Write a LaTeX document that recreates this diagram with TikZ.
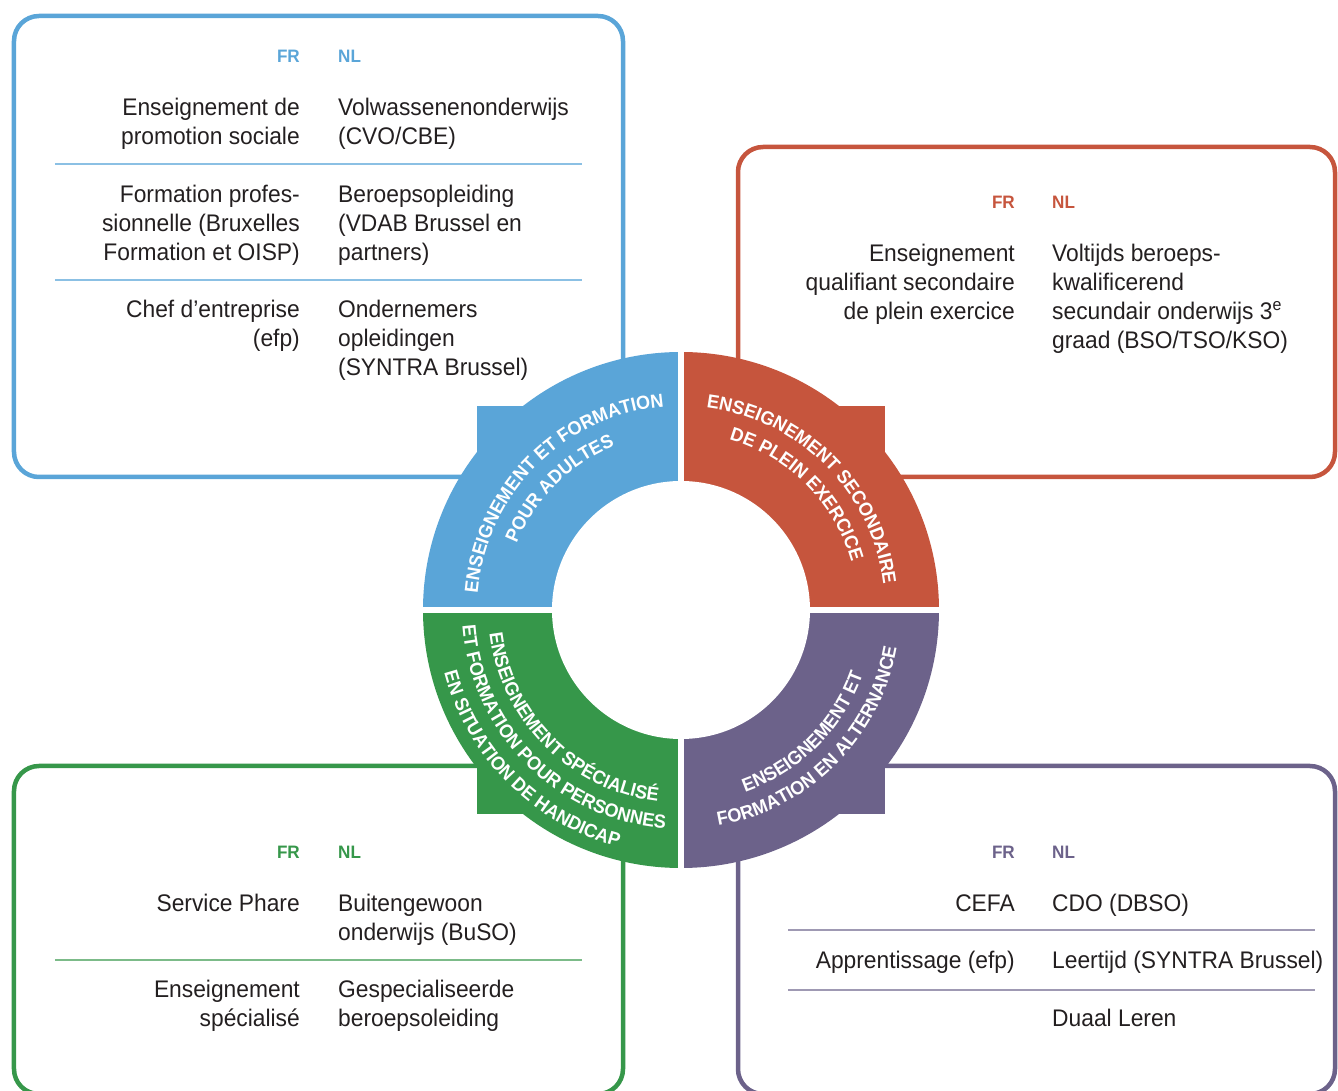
\documentclass[tikz,border=0pt]{standalone}
\usepackage{fontspec}
\setmainfont{Liberation Sans}[FakeStretch=0.95]
\usetikzlibrary{decorations.text}

\definecolor{adultblue}{HTML}{5AA5D8}
\definecolor{fulltimered}{HTML}{C6553D}
\definecolor{specialgreen}{HTML}{36974A}
\definecolor{dualpurple}{HTML}{6C628A}
\definecolor{bodytext}{HTML}{231F20}

\newcommand{\bodyfont}{\fontsize{24}{29}\selectfont}
\newcommand{\ringfont}{\bfseries\fontsize{19}{22}\selectfont}
\newcommand{\hdrfont}{\bfseries\fontsize{18}{20}\selectfont}

\tikzset{
  panel/.style={line width=4.5pt, rounded corners=25pt},
  frcol/.style={anchor=base east, align=right, inner sep=0pt, font=\bodyfont, text=bodytext},
  nlcol/.style={anchor=base west, align=left, inner sep=0pt, font=\bodyfont, text=bodytext},
  hdr/.style={inner sep=0pt, font=\hdrfont},
  rowsep/.style={line width=1.5pt},
  ringtext/.style={decoration={text along path, text align=center, text color=white, text={|\ringfont|#1}}, decorate},
}

\begin{document}
\begin{tikzpicture}[x=1pt,y=1pt]
  \useasboundingbox (-681,-481) rectangle (657,610);
  \clip (-681,-481) rectangle (657,610);

  % the four panels
  \draw[panel, adultblue] (-667,133) rectangle (-58,594);
  \draw[panel, fulltimered] (57,133) rectangle (654,463);
  \draw[panel, specialgreen] (-667,-484) rectangle (-58,-156);
  \draw[panel, dualpurple] (57,-484) rectangle (654,-156);

  % ring
  \foreach \a/\c in {135/adultblue, 45/fulltimered, 225/specialgreen, 315/dualpurple} {
    \fill[\c] (0,0) -- (\a-45:258) arc[start angle=\a-45, end angle=\a+45, radius=258] -- cycle;
    \fill[\c] (0,0) rectangle (\a:288.5);
  }
  \fill[white] (0,0) circle[radius=129];
  \fill[white] (-3.2,-262) rectangle (3.2,262);
  \fill[white] (-262,-3.2) rectangle (262,3.2);

  \path[ringtext={ENSEIGNEMENT ET FORMATION}] (205:204) arc[start angle=205, end angle=65, radius=204];
  \path[ringtext={POUR ADULTES}] (205:177) arc[start angle=205, end angle=65, radius=177];
  \path[ringtext={ENSEIGNEMENT SECONDAIRE}] (115:204) arc[start angle=115, end angle=-25, radius=204];
  \path[ringtext={DE PLEIN EXERCICE}] (115:177) arc[start angle=115, end angle=-25, radius=177];
  \path[ringtext={ENSEIGNEMENT SPÉCIALISÉ}] (155:193) arc[start angle=155, end angle=295, radius=193];
  \path[ringtext={ET FORMATION POUR PERSONNES}] (155:219) arc[start angle=155, end angle=295, radius=219];
  \path[ringtext={EN SITUATION DE HANDICAP}] (155:245) arc[start angle=155, end angle=295, radius=245];
  \path[ringtext={ENSEIGNEMENT ET}] (245:193) arc[start angle=245, end angle=385, radius=193];
  \path[ringtext={FORMATION EN ALTERNANCE}] (245:219) arc[start angle=245, end angle=385, radius=219];

  % adults (base anchor = last line)
  \node[hdr, text=adultblue, anchor=base east] (afr) at (-381,547) {FR};
  \node[hdr, text=adultblue, anchor=base west] (anl) at (-343,547) {NL};
  \node[frcol] (a1fr) at (-381,465) {Enseignement de\\promotion sociale};
  \node[nlcol] (a1nl) at (-343,465) {Volwassenenonderwijs\\(CVO/CBE)};
  \draw[rowsep, adultblue!70] (-626,446) -- (-99,446);
  \node[frcol] (a2fr) at (-381,349) {Formation profes-\\sionnelle (Bruxelles\\Formation et OISP)};
  \node[nlcol] (a2nl) at (-343,349) {Beroepsopleiding\\(VDAB Brussel en\\partners)};
  \draw[rowsep, adultblue!70] (-626,330) -- (-99,330);
  \node[frcol] (a3fr) at (-381,263) {Chef d’entreprise\\(efp)};
  \node[nlcol] (a3nl) at (-343,234) {Ondernemers\\opleidingen\\(SYNTRA Brussel)};

  % full-time secondary
  \node[hdr, text=fulltimered, anchor=base east] (sfr) at (334,401) {FR};
  \node[hdr, text=fulltimered, anchor=base west] (snl) at (371,401) {NL};
  \node[frcol] (s1fr) at (334,290) {Enseignement\\qualifiant secondaire\\de plein exercice};
  \node[nlcol] (s1nl) at (371,261) {Voltijds beroeps-\\kwalificerend\\secundair onderwijs 3\textsuperscript{e}\\graad (BSO/TSO/KSO)};

  % special needs
  \node[hdr, text=specialgreen, anchor=base east] (hfr) at (-381,-248) {FR};
  \node[hdr, text=specialgreen, anchor=base west] (hnl) at (-343,-248) {NL};
  \node[frcol] (h1fr) at (-381,-301) {Service Phare};
  \node[nlcol] (h1nl) at (-343,-330) {Buitengewoon\\onderwijs (BuSO)};
  \draw[rowsep, specialgreen!65] (-626,-350) -- (-99,-350);
  \node[frcol] (h2fr) at (-381,-416) {Enseignement\\spécialisé};
  \node[nlcol] (h2nl) at (-343,-416) {Gespecialiseerde\\beroepsoleiding};

  % dual learning
  \node[hdr, text=dualpurple, anchor=base east] (dfr) at (334,-248) {FR};
  \node[hdr, text=dualpurple, anchor=base west] (dnl) at (371,-248) {NL};
  \node[frcol] (d1fr) at (334,-301) {CEFA};
  \node[nlcol] (d1nl) at (371,-301) {CDO (DBSO)};
  \draw[rowsep, dualpurple!65] (107,-320) -- (634,-320);
  \node[frcol] (d2fr) at (334,-358) {Apprentissage (efp)};
  \node[nlcol] (d2nl) at (371,-358) {Leertijd (SYNTRA Brussel)};
  \draw[rowsep, dualpurple!65] (107,-380) -- (634,-380);
  \node[nlcol] (d3nl) at (371,-416) {Duaal Leren};
\end{tikzpicture}
\end{document}
